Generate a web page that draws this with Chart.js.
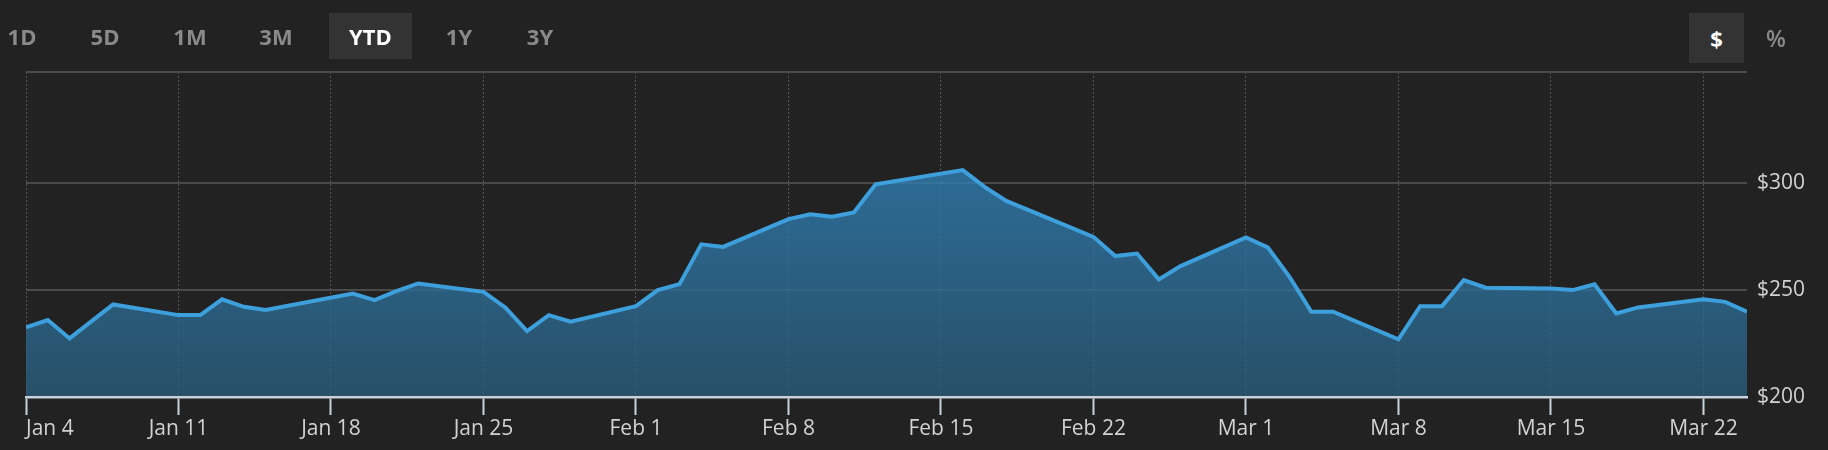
<!DOCTYPE html>
<html>
<head>
<meta charset="utf-8">
<script src="https://cdn.jsdelivr.net/npm/chart.js@4.4.1/dist/chart.umd.min.js"></script>
<style>
  html, body { margin:0; padding:0; background:#222222; width:1828px; height:450px; overflow:hidden; }
  #wrap { position:absolute; left:0; top:0; width:1828px; height:450px; }
  canvas { position:absolute; left:0; top:0; }
  .btn { position:absolute; top:13px; height:46px; line-height:46px; font-family:"Open Sans", Lato, sans-serif; font-weight:700; font-size:22px; color:#8a8a8a; text-align:center; white-space:nowrap; }
  .btn.active { background:#333333; color:#ffffff; }
</style>
</head>
<body>
<div id="wrap">
  <canvas id="c" width="1828" height="450"></canvas>
  <div class="btn" style="left:2px;width:40px;">1D</div>
  <div class="btn" style="left:85px;width:40px;">5D</div>
  <div class="btn" style="left:169px;width:42px;">1M</div>
  <div class="btn" style="left:255px;width:42px;">3M</div>
  <div class="btn active" style="left:329px;width:83px;">YTD</div>
  <div class="btn" style="left:439px;width:40px;">1Y</div>
  <div class="btn" style="left:520px;width:40px;">3Y</div>
  <div class="btn active" style="left:1689px;width:55px;height:50px;line-height:50px;">$</div>
  <div class="btn" style="left:1756px;width:40px;height:50px;line-height:50px;font-weight:600;font-size:23px;">%</div>
</div>
<script>
// ---- data ----
const dates = [
  "2021-01-04","2021-01-05","2021-01-06","2021-01-07","2021-01-08",
  "2021-01-11","2021-01-12","2021-01-13","2021-01-14","2021-01-15",
  "2021-01-19","2021-01-20","2021-01-21","2021-01-22",
  "2021-01-25","2021-01-26","2021-01-27","2021-01-28","2021-01-29",
  "2021-02-01","2021-02-02","2021-02-03","2021-02-04","2021-02-05",
  "2021-02-08","2021-02-09","2021-02-10","2021-02-11","2021-02-12",
  "2021-02-16","2021-02-17","2021-02-18","2021-02-19",
  "2021-02-22","2021-02-23","2021-02-24","2021-02-25","2021-02-26",
  "2021-03-01","2021-03-02","2021-03-03","2021-03-04","2021-03-05",
  "2021-03-08","2021-03-09","2021-03-10","2021-03-11","2021-03-12",
  "2021-03-15","2021-03-16","2021-03-17","2021-03-18","2021-03-19",
  "2021-03-22","2021-03-23","2021-03-24"
];
const prices = [
  232.6, 236.0, 227.4, 235.4, 243.3,
  238.3, 238.3, 245.7, 242.2, 240.7,
  248.4, 245.3, 249.5, 253.1,
  249.2, 241.9, 230.8, 238.3, 235.2,
  242.5, 250.0, 252.8, 271.4, 270.2,
  283.2, 285.5, 284.3, 286.3, 299.5,
  306.1, 298.3, 291.7, 287.5,
  274.9, 265.9, 267.1, 255.0, 261.2,
  274.6, 270.0, 256.2, 239.9, 239.9,
  227.0, 242.5, 242.5, 254.7, 251.1,
  250.8, 250.0, 252.7, 239.1, 241.9,
  245.7, 244.5, 239.9
];
const tickDates = ["2021-01-04","2021-01-11","2021-01-18","2021-01-25","2021-02-01","2021-02-08","2021-02-15","2021-02-22","2021-03-01","2021-03-08","2021-03-15","2021-03-22"];
const tickLabels = ["Jan 4","Jan 11","Jan 18","Jan 25","Feb 1","Feb 8","Feb 15","Feb 22","Mar 1","Mar 8","Mar 15","Mar 22"];
const yTicks = [200, 250, 300];
const yMin = 200, yMax = 352;

// ---- helpers ----
const DAY = 86400000;
const t0 = Date.UTC(2021, 0, 4);
const dayOf = s => { const [y,m,d] = s.split("-").map(Number); return (Date.UTC(y, m-1, d) - t0) / DAY; };
const points = dates.map((d, i) => ({ x: dayOf(d), y: prices[i] }));
const xTickVals = tickDates.map(dayOf);
const xEnd = dayOf(dates[dates.length - 1]);

const FONT = "'Open Sans', Lato, sans-serif";

new Chart(document.getElementById("c"), {
  type: "line",
  data: {
    datasets: [{
      data: points,
      borderColor: "#3d a0dc".replace(" ", ""),
      borderWidth: 4,
      pointRadius: 0,
      pointHoverRadius: 0,
      tension: 0,
      fill: "start",
      backgroundColor: (ctx) => {
        const area = ctx.chart.chartArea;
        if (!area) return "rgba(45,110,150,0.8)";
        const g = ctx.chart.ctx.createLinearGradient(0, area.top, 0, area.bottom);
        g.addColorStop(0, "rgba(52,142,205,0.8)");
        g.addColorStop(1, "rgba(42,92,122,0.8)");
        return g;
      }
    }]
  },
  options: {
    responsive: false,
    animation: false,
    devicePixelRatio: 1,
    layout: { padding: { left: 26, top: 72, right: 0, bottom: 0 } },
    plugins: { legend: { display: false }, tooltip: { enabled: false } },
    events: [],
    scales: {
      x: {
        type: "linear",
        min: 0,
        max: xEnd,
        afterBuildTicks: (s) => { s.ticks = xTickVals.map(v => ({ value: v })).concat([{ value: xEnd }]); },
        afterFit: (s) => { s.height = 53; },
        ticks: {
          autoSkip: false,
          maxRotation: 0,
          align: "inner",
          padding: 1,
          color: "#d2d2d2",
          font: { family: FONT, size: 21 },
          callback: (v, i) => tickLabels[i] || ""
        },
        grid: {
          color: (c) => c.index >= xTickVals.length ? "rgba(0,0,0,0)" : "#555555",
          lineWidth: 1,
          tickLength: 18,
          tickWidth: 2,
          tickColor: (c) => c.index >= xTickVals.length ? "rgba(0,0,0,0)" : "#c8d3dd",
          tickBorderDash: []
        },
        border: { display: true, color: "#c8d3dd", width: 2.5, dash: [2, 2], z: 1 }
      },
      y: {
        type: "linear",
        position: "right",
        min: yMin,
        max: yMax,
        afterBuildTicks: (s) => { s.ticks = yTicks.map(v => ({ value: v })).concat([{ value: yMax }]); },
        afterFit: (s) => { s.width = 81; },
        ticks: {
          padding: 10,
          color: "#d2d2d2",
          font: { family: FONT, size: 21 },
          callback: (v) => yTicks.includes(v) ? "$" + v : ""
        },
        grid: { color: "#4a4a4a", lineWidth: 2, drawTicks: false },
        border: { display: false }
      }
    }
  }
});
</script>
</body>
</html>
